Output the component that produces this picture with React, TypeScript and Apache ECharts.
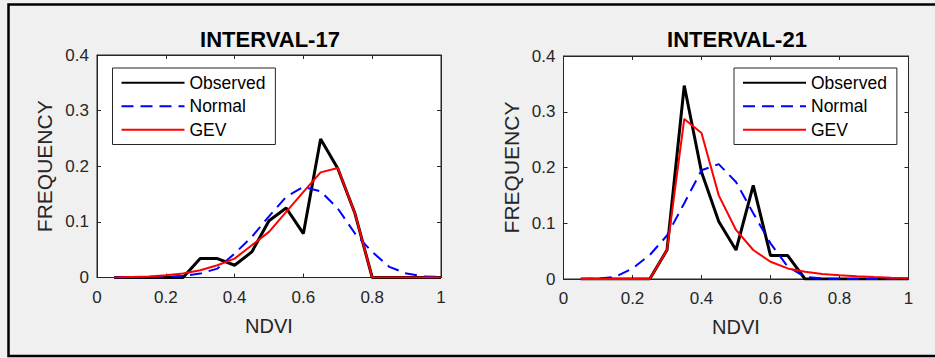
import React, { useEffect, useRef } from "react";
import * as echarts from "echarts";

const ndvi = [0.05, 0.1, 0.15, 0.2, 0.25, 0.3, 0.35, 0.4, 0.45, 0.5, 0.55, 0.6, 0.65, 0.7, 0.75, 0.8, 0.85, 0.9, 0.95, 1.0];

const obs17 = [0, 0, 0, 0, 0, 0.034, 0.034, 0.022, 0.046, 0.102, 0.125, 0.079, 0.249, 0.196, 0.115, 0, 0, 0, 0, 0];
const normal17 = [0, 0, 0, 0.001, 0.003, 0.007, 0.016, 0.043, 0.073, 0.11, 0.145, 0.163, 0.155, 0.124, 0.079, 0.046, 0.019, 0.007, 0.002, 0.001];
const gev17 = [0, 0.001, 0.002, 0.004, 0.007, 0.013, 0.022, 0.034, 0.058, 0.082, 0.118, 0.154, 0.189, 0.197, 0.115, 0, 0, 0, 0, 0];

const obs21 = [0, 0, 0, 0, 0, 0.052, 0.347, 0.192, 0.103, 0.052, 0.168, 0.042, 0.042, 0, 0, 0, 0, 0, 0, 0];
const normal21 = [0, 0.0005, 0.004, 0.019, 0.043, 0.078, 0.136, 0.195, 0.206, 0.174, 0.118, 0.064, 0.022, 0.004, 0.001, 0, 0, 0, 0, 0];
const gev21 = [0, 0, 0, 0, 0, 0.052, 0.287, 0.262, 0.15, 0.088, 0.052, 0.031, 0.019, 0.013, 0.009, 0.0066, 0.005, 0.0036, 0.0024, 0.0018];

const titles = ["INTERVAL-17", "INTERVAL-21"];
const seriesNames = ["Observed", "Normal", "GEV"];
const xLabel = "NDVI";
const yLabel = "FREQUENCY";

const FONT = "'Liberation Sans', Arial, Helvetica, sans-serif";
const AX = "#262626";

const pairs = (ys: number[]) => ys.map((y, i) => [ndvi[i], y]);

export default function App() {
  const ref = useRef<HTMLDivElement>(null);
  useEffect(() => {
    document.body.style.margin = "0";
    const chart = echarts.init(ref.current!, null, { renderer: "svg" });
    const grids = [
      { left: 97, top: 55, width: 344, height: 222.5 },
      { left: 563.5, top: 56, width: 345, height: 223 },
    ];
    const xAxes: any[] = [];
    const yAxes: any[] = [];
    grids.forEach((g, gi) => {
      const common = {
        gridIndex: gi,
        type: "value",
        axisLine: { show: true, onZero: false, lineStyle: { color: AX, width: 1 } },
        axisTick: { show: true, inside: true, length: 4, lineStyle: { color: AX } },
        splitLine: { show: false },
      };
      xAxes.push({
        ...common,
        position: "bottom",
        min: 0,
        max: 1,
        interval: 0.2,
        name: xLabel,
        nameLocation: "middle",
        nameGap: 38,
        nameTextStyle: { fontFamily: FONT, fontSize: 20, color: AX },
        axisLabel: { fontFamily: FONT, fontSize: 17, color: AX, margin: 11 },
      });
      xAxes.push({ ...common, position: "top", min: 0, max: 1, interval: 0.2, axisLabel: { show: false } });
      yAxes.push({
        ...common,
        position: "left",
        min: 0,
        max: 0.4,
        interval: 0.1,
        name: yLabel,
        nameLocation: "middle",
        nameGap: 42,
        nameTextStyle: { fontFamily: FONT, fontSize: 21, color: AX },
        axisLabel: { fontFamily: FONT, fontSize: 17, color: AX, margin: 8 },
      });
      yAxes.push({ ...common, position: "right", min: 0, max: 0.4, interval: 0.1, axisLabel: { show: false } });
    });

    const mk = (name: string, data: number[], gi: number, color: string, width: number, dashed: boolean) => ({
      type: "line",
      name,
      xAxisIndex: gi * 2,
      yAxisIndex: gi * 2,
      data: pairs(data),
      symbol: "none",
      showSymbol: false,
      lineStyle: { color, width, type: dashed ? [12, 7] : "solid" },
      itemStyle: { color },
    });

    const series = [
      mk(seriesNames[0], obs17, 0, "#000000", 3, false),
      mk(seriesNames[1], normal17, 0, "#0000ff", 2, true),
      mk(seriesNames[2], gev17, 0, "#ff0000", 2, false),
      mk(seriesNames[0], obs21, 1, "#000000", 3, false),
      mk(seriesNames[1], normal21, 1, "#0000ff", 2, true),
      mk(seriesNames[2], gev21, 1, "#ff0000", 2, false),
    ];

    const legendCommon = {
      orient: "vertical",
      top: 68,
      data: seriesNames,
      itemWidth: 63,
      itemHeight: 14,
      itemGap: 5,
      padding: [5.5, 10, 5.5, 8],
      backgroundColor: "#ffffff",
      borderColor: AX,
      borderWidth: 1,
      borderRadius: 0,
      selectedMode: false,
      itemStyle: { opacity: 0 },
      textStyle: { fontFamily: FONT, fontSize: 17.5, color: "#000", lineHeight: 18.5 },
    };

    chart.setOption({
      animation: false,
      backgroundColor: "#f0f0f0",
      grid: grids.map((g) => ({ ...g, show: true, backgroundColor: "#ffffff", borderColor: AX, borderWidth: 1 })),
      xAxis: xAxes,
      yAxis: yAxes,
      legend: [
        { ...legendCommon, left: 112.5 },
        { ...legendCommon, left: 734 },
      ],
      graphic: [
        {
          type: "rect",
          shape: { x: 8.5, y: 4.5, width: 940, height: 351.5 },
          style: { fill: "none", stroke: "#000", lineWidth: 2.5 },
          silent: true,
        },
        {
          type: "text",
          x: 270,
          y: 39,
          style: { text: titles[0], fontFamily: FONT, fontSize: 22, fontWeight: "bold", fill: "#000", align: "center", verticalAlign: "middle" },
        },
        {
          type: "text",
          x: 737,
          y: 39,
          style: { text: titles[1], fontFamily: FONT, fontSize: 22, fontWeight: "bold", fill: "#000", align: "center", verticalAlign: "middle" },
        },
      ],
      series,
    });
    return () => chart.dispose();
  }, []);
  return <div ref={ref} style={{ position: "fixed", left: 0, top: 0, width: 935, height: 358 }} />;
}
